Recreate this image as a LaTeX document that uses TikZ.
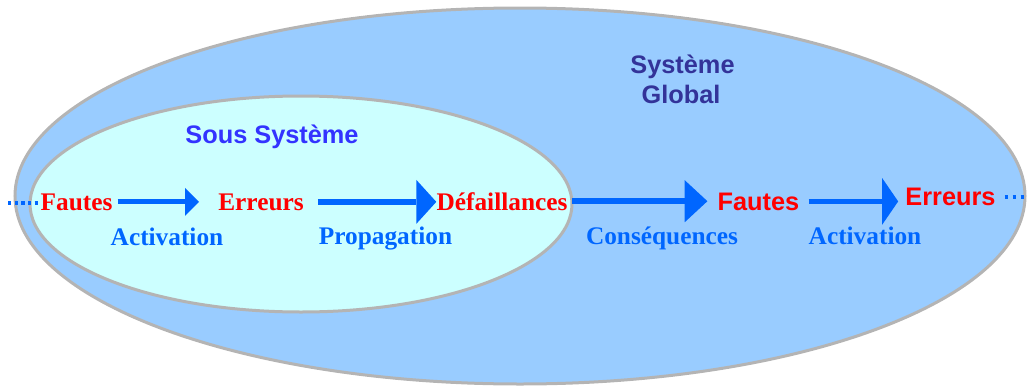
\documentclass[tikz,border=0pt]{standalone}
\usepackage{fontspec}
\setmainfont{Liberation Serif}
\newfontfamily\sansb{Liberation Sans}
\usetikzlibrary{arrows.meta}

\definecolor{fondext}{HTML}{99CCFF}
\definecolor{fondint}{HTML}{CCFFFF}
\definecolor{bord}{HTML}{B4B4B4}
\definecolor{flux}{HTML}{0066FF}
\definecolor{rouge}{HTML}{FF0000}
\definecolor{titreint}{HTML}{3333FF}
\definecolor{titreext}{HTML}{333399}

\begin{document}
\begin{tikzpicture}[x=0.75pt, y=-0.75pt,
	evt/.style={anchor=base, inner sep=0pt, text=rouge, font=\fontsize{19}{22}\selectfont\bfseries},
	evtsans/.style={evt, font=\fontsize{19}{22}\selectfont\sansb\bfseries},
	lbl/.style={anchor=base, inner sep=0pt, text=flux, font=\fontsize{19}{22}\selectfont\bfseries},
	titre/.style={anchor=base, inner sep=0pt, font=\fontsize{19}{22}\selectfont\sansb\bfseries},
	trait/.style={draw=flux, line width=#1},
	pointille/.style={draw=flux, line width=2.4pt, dash pattern=on 2.4pt off #1}]
	\useasboundingbox (0,0) rectangle (1028,389);

	% Ellipses
	\draw [bord, line width=2.25pt, fill=fondext] (520,196) ellipse [x radius=505, y radius=188];
	\draw [bord, line width=2.25pt, fill=fondint] (301,204) ellipse [x radius=271, y radius=108];

	% Nodes
	\node [evt]		(fl)	at (76.5,210)	{Fautes};
	\node [evt]		(el)	at (261,210)	{Erreurs};
	\node [evt]		(def)	at (502,210)	{Défaillances};
	\node [evtsans]	(fr)	at (758.5,210)	{Fautes};
	\node [evtsans]	(er)	at (950.5,205.5)	{Erreurs};

	\node [lbl]		(act1)	at (167,245)	{Activation};
	\node [lbl]		(prop)	at (385.5,244)	{Propagation};
	\node [lbl]		(cons)	at (662,244)	{Conséquences};
	\node [lbl]		(act2)	at (865,244)	{Activation};

	\node [titre, text=titreint]	(ss)	at (272,143)	{Sous Système};
	\node [titre, text=titreext]	(sg1)	at (682.5,73)	{Système};
	\node [titre, text=titreext]	(sg2)	at (681,103)	{Global};

	\coordinate (dg) at (8,203);
	\coordinate (dd) at (1026,199);

	% Paths
	\draw [pointille=2.6pt] (dg) -- (dg -| fl.west);
	\draw [trait=3.75pt, -{Triangle[length=10.5pt, width=21pt, line width=0pt]}, shorten <=3.75pt, shorten >=14.25pt] (fl) -- (el);
	\draw [trait=4.5pt, -{Triangle[length=15pt, width=33pt, line width=0pt]}, shorten <=10.5pt] (el.east) -- (el.east -| def.west);
	\draw [trait=4.5pt, -{Triangle[length=17pt, width=31.5pt, line width=0pt]}, shorten <=3pt, shorten >=7.5pt] (def.east) -- (def.east -| fr.west);
	\draw [trait=4pt, -{Triangle[length=12pt, width=35pt, line width=0pt]}, shorten <=6.75pt, shorten >=5.25pt] (fr.east) -- (fr.east -| er.west);
	\draw [pointille=3.6pt, shorten <=6.5pt] (er.east) -- (er.east -| dd);
\end{tikzpicture}
\end{document}
